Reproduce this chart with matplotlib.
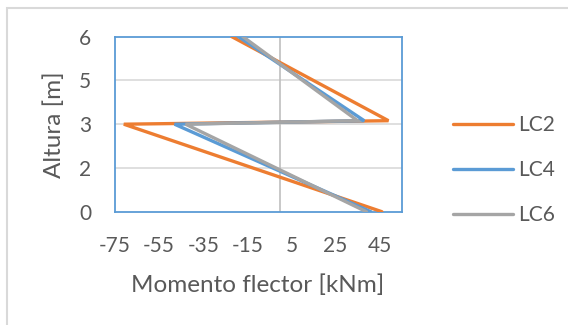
import matplotlib
matplotlib.use("Agg")
import matplotlib.pyplot as plt
from matplotlib.patches import Rectangle
import numpy as np

# Bending moment diagrams along the column height
altura = [6.0, 3.12, 3.0, 0.0]
lc2 = [-22, 49, -71, 46]
lc4 = [-19, 38, -48, 41]
lc6 = [-17, 35, -43, 39]

series = [("LC2", lc2, "#ED7D31"), ("LC4", lc4, "#5B9BD5"), ("LC6", lc6, "#A5A5A5")]

x_min, x_max, x_step = -75, 55, 20
y_min, y_max, y_step = 0, 6, 1.5

font = ["Lato", "DejaVu Sans"]
plt.rcParams["font.family"] = font
text_color = "#595959"

fig = plt.figure(figsize=(5.68, 3.25), dpi=100)
W, H = 568, 325

# chart area frame (runs off the right and bottom edges)
fig.patches.append(Rectangle((7 / W, -0.5), 1.2, 1.5 - 8 / H, transform=fig.transFigure,
                             fill=False, edgecolor="#D9D9D9", linewidth=1.5))

ax = fig.add_axes([115 / W, 1 - 211.7 / H, (401.7 - 115) / W, 175 / H])

for name, xs, color in series:
    ax.plot(xs, altura, color=color, linewidth=2.4, solid_capstyle="round",
            solid_joinstyle="miter", label=name, zorder=3)

ax.set_xlim(x_min, x_max)
ax.set_ylim(y_min, y_max)
xt = np.arange(x_min, x_max + 0.01, x_step)
yt = np.arange(y_min, y_max + 0.01, y_step)
ax.set_xticks(xt)
ax.set_xticklabels([f"{v:.0f}" for v in xt])
ax.set_yticks(yt)
ax.set_yticklabels([f"{int(np.floor(v + 0.5))}" for v in yt])

for v in yt[1:-1]:
    ax.axhline(v, color="#D9D9D9", linewidth=1.2, zorder=1)
ax.axvline(0, color="#BFBFBF", linewidth=1.2, zorder=1)

for sp in ax.spines.values():
    sp.set_color("#5B9BD5")
    sp.set_linewidth(1.3)

ax.tick_params(axis="both", length=0, labelsize=15, labelcolor=text_color)
ax.tick_params(axis="x", pad=17.5)
ax.tick_params(axis="y", pad=17)

ax.set_xlabel("Momento flector [kNm]", fontsize=17.5, color=text_color, va="center")
ax.set_ylabel("Altura [m]", fontsize=17.5, color=text_color, va="center")
ax.xaxis.set_label_coords(0.499, -0.42)
ax.yaxis.set_label_coords(-0.212, 0.5)

leg = fig.legend(loc="upper left", bbox_to_anchor=(445 / W, 1 - 107 / H), frameon=False,
                 fontsize=15, handlelength=2.85, handletextpad=0.25, labelspacing=1.2,
                 borderaxespad=0)
for t in leg.get_texts():
    t.set_color(text_color)

fig.savefig("out.png", dpi=100, facecolor="white")
